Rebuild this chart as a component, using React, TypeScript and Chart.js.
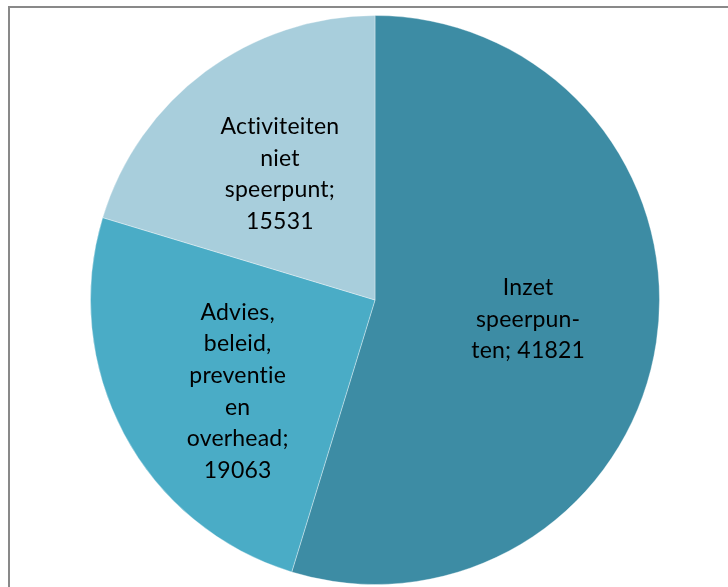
import React, { useEffect, useRef } from "react";
import { Chart, registerables } from "chart.js";

Chart.register(...registerables);

const categories = ["Inzet speerpunten", "Advies, beleid, preventie en overhead", "Activiteiten niet speerpunt"];
const values = [41821, 19063, 15531];
const labelLines = [
  ["Inzet", "speerpun-", "ten; 41821"],
  ["Advies,", "beleid,", "preventie", "en", "overhead;", "19063"],
  ["Activiteiten", "niet", "speerpunt;", "15531"],
];
const colors = ["#3D8CA4", "#4AACC6", "#A8CEDC"];
// small nudges of label boxes (px) to mimic the original placement
const labelNudgeX = [-3, 2, -1];
const labelNudgeY = [-4, 17, 1];

const labelPlugin = {
  id: "pieLabels",
  afterDatasetsDraw(chart: any) {
    const ctx = chart.ctx;
    const meta = chart.getDatasetMeta(0);
    ctx.save();
    ctx.font = "23px Lato, 'Open Sans', sans-serif";
    try { (ctx as any).letterSpacing = "0.2px"; } catch (e) {}
    ctx.fillStyle = "#000000";
    ctx.textAlign = "center";
    ctx.textBaseline = "middle";
    const lineH = 31.6;
    meta.data.forEach((arc: any, i: number) => {
      const p = arc.getProps(["x", "y", "startAngle", "endAngle", "outerRadius"], true);
      const mid = (p.startAngle + p.endAngle) / 2;
      const r = p.outerRadius * 0.555;
      const cx = p.x + Math.cos(mid) * r + labelNudgeX[i];
      const cy = p.y + Math.sin(mid) * r + labelNudgeY[i];
      const lines = labelLines[i];
      const startY = cy - ((lines.length - 1) * lineH) / 2;
      lines.forEach((t, k) => ctx.fillText(t, cx, startY + k * lineH));
    });
    ctx.restore();
  },
};

export default function App() {
  const ref = useRef<HTMLCanvasElement>(null);
  useEffect(() => {
    if (!ref.current) return;
    const chart = new Chart(ref.current, {
      type: "pie",
      data: {
        labels: categories,
        datasets: [
          {
            data: values,
            backgroundColor: colors,
            borderColor: "rgba(255,255,255,0.35)",
            borderWidth: 1,
          },
        ],
      },
      options: {
        responsive: false,
        animation: false,
        layout: { padding: { top: 15, bottom: 2, left: 90, right: 68 } },
        plugins: { legend: { display: false }, tooltip: { enabled: false } },
      },
      plugins: [labelPlugin],
    });
    return () => chart.destroy();
  }, []);
  return (
    <div style={{ position: "absolute", left: 0, top: 0, width: 728, height: 587, overflow: "hidden", background: "#fff" }}>
      <div style={{ position: "absolute", left: 8, top: 6, width: 760, height: 620, border: "2px solid #898989", boxSizing: "border-box" }} />
      <canvas ref={ref} width={728} height={587} style={{ position: "absolute", left: 0, top: 0, width: 728, height: 587 }} />
    </div>
  );
}
